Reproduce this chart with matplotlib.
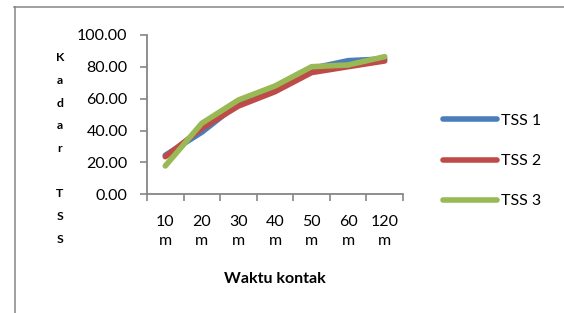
import matplotlib
matplotlib.use("Agg")
import matplotlib.pyplot as plt
from matplotlib.lines import Line2D

categories = ["10\nm", "20\nm", "30\nm", "40\nm", "50\nm", "60\nm", "120\nm"]
tss1 = [24.5, 39.0, 57.0, 66.0, 79.0, 83.9, 85.0]
tss2 = [23.6, 41.4, 55.4, 64.4, 76.4, 80.1, 83.7]
tss3 = [17.8, 44.6, 59.2, 68.0, 80.1, 81.2, 86.4]
series = [("TSS 1", tss1, "#4A7EBB"), ("TSS 2", tss2, "#BE4B48"), ("TSS 3", tss3, "#98B954")]
yticks = [0, 20, 40, 60, 80, 100]

plt.rcParams['font.family'] = ['Lato', 'DejaVu Sans']
FS = 11.5
grey = "#868686"

W, H = 564, 313
fig = plt.figure(figsize=(W / 100, H / 100), dpi=100)
ax = fig.add_axes([147 / W, 1 - 194.3 / H, (403 - 147) / W, (194.3 - 35) / H])

x = list(range(len(categories)))
for name, vals, col in series:
    ax.plot(x, vals, color=col, lw=4.0, solid_capstyle='round', solid_joinstyle='round', label=name)

ax.set_xlim(-0.5, len(categories) - 0.5)
ax.set_ylim(0, 100)
ax.set_yticks(yticks)
ax.set_yticklabels([f"{v:.2f}" for v in yticks], fontsize=FS)
ax.set_xticks([i - 0.5 for i in range(len(categories) + 1)])
ax.set_xticklabels([])
ax.set_xticks(x, minor=True)
ax.set_xticklabels(categories, minor=True, fontsize=FS, linespacing=1.4)
ax.tick_params(axis='x', which='major', length=5, color=grey, width=1.2)
ax.tick_params(axis='x', which='minor', length=0, pad=15)
ax.tick_params(axis='y', length=5, color=grey, width=1.2, pad=9)
for s in ['top', 'right']:
    ax.spines[s].set_visible(False)
for s in ['left', 'bottom']:
    ax.spines[s].set_color(grey)
    ax.spines[s].set_linewidth(1.3)

ax.set_xlabel("Waktu kontak", fontsize=FS, fontweight='bold')
ax.xaxis.set_label_coords(0.5, -0.49)

fig.text(60 / W, 1 - 148.5 / H, "K\na\nd\na\nr\n\nT\nS\nS", fontsize=8.8, fontweight='bold',
         ha='center', va='center', multialignment='center', linespacing=2.3)

leg = ax.legend(loc='center left', bbox_to_anchor=(443 / W, 1 - 161 / H), bbox_transform=fig.transFigure,
                frameon=False, fontsize=FS, handlelength=3.4, handletextpad=0.25, labelspacing=1.62,
                borderpad=0, borderaxespad=0)

fig.add_artist(Line2D([14.5 / W, 14.5 / W], [0, 1 - 7 / H], color=grey, lw=1.1, transform=fig.transFigure))
fig.add_artist(Line2D([14 / W, 1], [1 - 7 / H, 1 - 7 / H], color=grey, lw=1.1, transform=fig.transFigure))

fig.savefig("out.png", dpi=100)
